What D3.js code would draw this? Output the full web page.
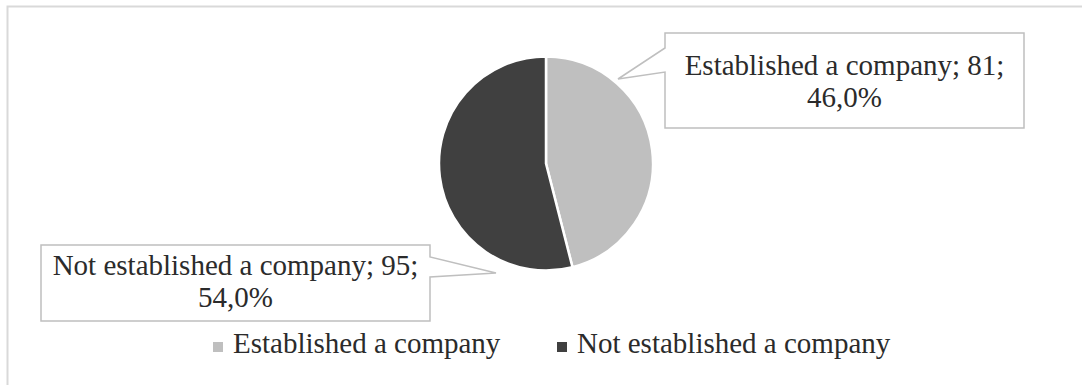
<!DOCTYPE html>
<html>
<head>
<meta charset="utf-8">
<script src="https://cdn.jsdelivr.net/npm/d3@7/dist/d3.min.js"></script>
<style>
  html, body { margin: 0; padding: 0; background: #fff; }
  svg { display: block; }
  text { font-family: "Liberation Serif", "Times New Roman", serif; fill: #2b2b2b; }
</style>
</head>
<body>
<svg id="chart" width="1082" height="385"></svg>
<script>
// Survey outcome: respondents who founded a company vs. those who did not
const categories = ["Established a company", "Not established a company"];
const counts = [81, 95];
const colors = ["#BFBFBF", "#404040"];

const W = 1082, H = 385;
const svg = d3.select("#chart");

// chart area border (continues past the right and bottom edges)
svg.append("rect")
  .attr("x", 7.5).attr("y", 6.5)
  .attr("width", W + 20).attr("height", H + 20)
  .attr("fill", "none").attr("stroke", "#D9D9D9").attr("stroke-width", 2);

const cx = 546, cy = 163.5, r = 107;
const total = d3.sum(counts);

const pie = d3.pie().sort(null).value(d => d);
const arcs = pie(counts);
const arc = d3.arc().innerRadius(0).outerRadius(r);

const g = svg.append("g").attr("transform", `translate(${cx},${cy})`);
g.selectAll("path.slice")
  .data(arcs)
  .join("path")
  .attr("class", "slice")
  .attr("d", arc)
  .attr("fill", (d, i) => colors[i])
  .attr("stroke", "#fff")
  .attr("stroke-width", 2.5)
  .attr("stroke-linejoin", "round");

// callout boxes for data labels: box rect, pointer base on a box side, pointer tip
const callouts = [
  { x: 665, y: 33, w: 359, h: 95, side: "left", b0: 48, b1: 72, tip: [618, 79], base: 75 },
  { x: 41, y: 245, w: 389, h: 76, side: "right", b0: 257, b1: 277, tip: [496, 273], base: 275 }
];

const fmtPct = v => (v * 100).toFixed(1).replace(".", ",") + "%";

arcs.forEach((d, i) => {
  const c = callouts[i];
  const x0 = c.x, y0 = c.y, x1 = c.x + c.w, y1 = c.y + c.h;
  let pts;
  if (c.side === "left") {
    pts = [[x0, y0], [x1, y0], [x1, y1], [x0, y1], [x0, c.b1], c.tip, [x0, c.b0]];
  } else {
    pts = [[x0, y0], [x1, y0], [x1, c.b0], c.tip, [x1, c.b1], [x1, y1], [x0, y1]];
  }
  svg.append("path")
    .attr("d", d3.line()(pts) + "Z")
    .attr("fill", "#fff")
    .attr("stroke", "#BFBFBF")
    .attr("stroke-width", 1.5);

  const t = svg.append("text")
    .attr("text-anchor", "middle")
    .attr("font-size", 29);
  t.append("tspan").attr("x", c.x + c.w / 2).attr("y", c.base)
    .text(`${categories[i]}; ${d.data};`);
  t.append("tspan").attr("x", c.x + c.w / 2).attr("y", c.base + 32)
    .text(fmtPct(d.data / total));
});

// legend
const legendX = [213, 557];
const leg = svg.append("g");
categories.forEach((name, i) => {
  leg.append("rect")
    .attr("x", legendX[i]).attr("y", 342)
    .attr("width", 10).attr("height", 10)
    .attr("fill", colors[i]);
  leg.append("text")
    .attr("x", legendX[i] + 20).attr("y", 353)
    .attr("font-size", 29)
    .text(name);
});
</script>
</body>
</html>
